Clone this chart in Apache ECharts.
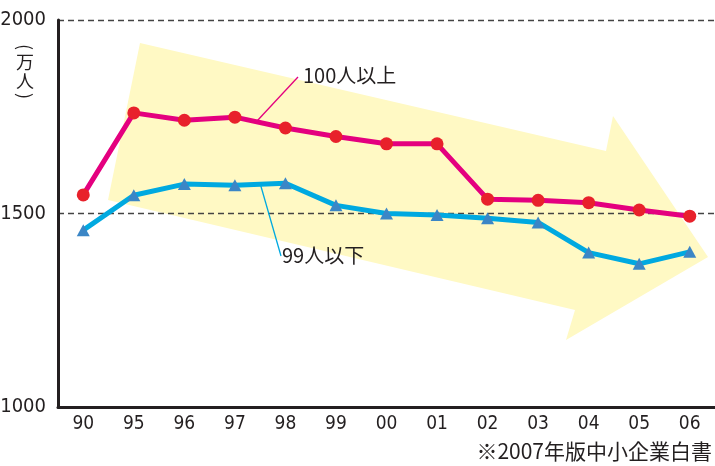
<!DOCTYPE html>
<html><head><meta charset="utf-8">
<script src="https://cdn.jsdelivr.net/npm/echarts@6/dist/echarts.min.js"></script>
<style>html,body{margin:0;padding:0;background:#fff}#c{width:715px;height:466px}</style>
</head><body><div id="c"></div>
<script>
const categories = ['90','95','96','97','98','99','00','01','02','03','04','05','06'];
const over100 = [1548,1760,1741,1749,1721,1699,1680,1680,1537,1534,1528,1509,1493];
const under99 = [1457,1547,1576,1573,1578,1521,1500,1496,1488,1477,1399,1370,1401];
const yTicks = [1000,1500,2000];
const seriesNames = ['100人以上','99人以下'];
const yUnit = ['(','万','人',')'];
const sourceNote = '※2007年版中小企業白書';

const numFont = "'DejaVu Sans Condensed','Liberation Sans Narrow',sans-serif";
const chart = echarts.init(document.getElementById('c'));
chart.setOption({
  animation:false,
  backgroundColor:'#fff',
  grid:{left:58,right:0,top:20,bottom:59,containLabel:false,outerBoundsMode:'none'},
  xAxis:{type:'category',data:categories,boundaryGap:true,
    axisLine:{lineStyle:{color:'#231f20',width:3}},
    axisTick:{inside:true,alignWithLabel:true,length:8,lineStyle:{color:'#555',width:1.2}},
    axisLabel:{color:'#231f20',fontFamily:numFont,fontSize:19,margin:8}},
  yAxis:{type:'value',min:yTicks[0],max:yTicks[2],interval:500,
    axisLine:{show:true,lineStyle:{color:'#231f20',width:3}},
    axisTick:{show:false},
    axisLabel:{color:'#231f20',fontFamily:numFont,fontSize:20,margin:12,formatter:v=>String(v)},
    splitLine:{show:true,lineStyle:{color:'#444',type:[6,4],width:1.3}}},
  graphic:[
    {type:'polygon',z:-5,silent:true,
     shape:{points:[[140,43],[606,151],[613,116],[708,257],[566,340],[575,310],[108,200]]},
     style:{fill:'#fff9c4'}},
    {type:'line',z:50,shape:{x1:298,y1:77,x2:257,y2:121},style:{stroke:'#e4007f',lineWidth:1.3}},
    {type:'line',z:50,shape:{x1:260,y1:183,x2:281,y2:256},style:{stroke:'#00a9e0',lineWidth:1.3}},
    {type:'text',z:50,left:303,top:65,style:{text:seriesNames[0],font:"20px 'Noto Sans CJK JP'",fill:'#231f20'}},
    {type:'text',z:50,left:282,top:245,style:{text:seriesNames[1],font:"20px 'Noto Sans CJK JP'",fill:'#231f20'}},
    ...yUnit.map((ch,i)=>({type:'text',z:50,x:25,y:[47,62,81,96][i],
      rotation:(i===0||i===3)?-Math.PI/2:0,
      style:{text:ch,font:"18px 'Noto Sans CJK JP'",fill:'#231f20',align:'center',verticalAlign:'middle'}})),
    {type:'text',z:50,right:3,top:441,style:{text:sourceNote,font:"21px 'Noto Sans CJK JP'",fill:'#231f20'}}
  ],
  series:[
    {name:seriesNames[0],type:'line',data:over100,symbol:'circle',symbolSize:13,z:3,
     lineStyle:{color:'#e4007f',width:5},itemStyle:{color:'#e8212b'}},
    {name:seriesNames[1],type:'line',data:under99,symbol:'triangle',symbolSize:[13,12],z:3,
     lineStyle:{color:'#00a9e0',width:5},itemStyle:{color:'#3b86c6'}}
  ]
});
</script></body></html>
